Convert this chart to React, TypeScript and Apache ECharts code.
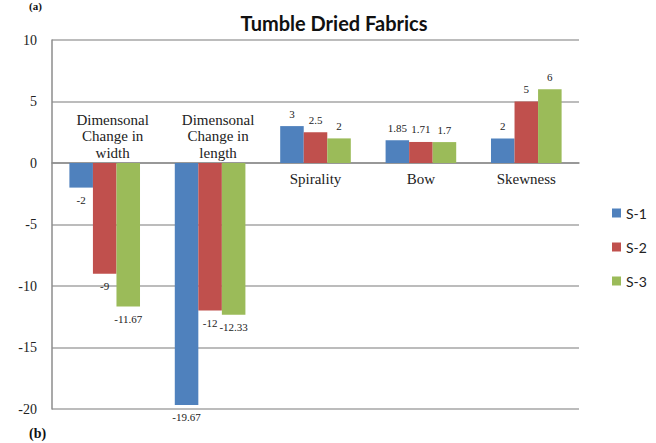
import React, { useEffect, useRef } from "react";
import * as echarts from "echarts";

const categories = [
  "Dimensonal\nChange in\nwidth",
  "Dimensonal\nChange in\nlength",
  "Spirality",
  "Bow",
  "Skewness",
];
const seriesNames = ["S-1", "S-2", "S-3"];
const s1 = [-2, -19.67, 3, 1.85, 2];
const s2 = [-9, -12, 2.5, 1.71, 5];
const s3 = [-11.67, -12.33, 2, 1.7, 6];
const colors = ["#4F81BD", "#C0504D", "#9BBB59"];
const yTicks = { min: -20, max: 10, interval: 5 };

const serif = "'Liberation Serif', 'DejaVu Serif', serif";

export default function App() {
  const ref = useRef<HTMLDivElement>(null);
  useEffect(() => {
    if (!ref.current) return;
    const chart = echarts.init(ref.current, null, { renderer: "svg" });
    const all = [s1, s2, s3];
    const barSeries = all.map((vals, k) => ({
      name: seriesNames[k],
      type: "bar",
      barGap: "0%",
      barCategoryGap: "33%",
      itemStyle: { color: colors[k] },
      data: vals.map((v) => ({
        value: v,
        label: { position: v < 0 ? "bottom" : "top" },
      })),
      label: {
        show: true,
        distance: 7,
        fontFamily: serif,
        fontSize: 11,
        color: "#222",
      },
    }));
    const option: any = {
      animation: false,
      backgroundColor: "#fff",
      title: {
        text: "Tumble Dried Fabrics",
        left: 329,
        top: 8,
        textAlign: "center",
        textStyle: {
          fontFamily: "Lato",
          fontWeight: "bold",
          fontSize: 20,
          color: "#111",
        },
      },
      legend: {
        data: seriesNames,
        orient: "vertical",
        left: 607,
        top: 201,
        itemWidth: 9,
        itemHeight: 9,
        itemGap: 20,
        icon: "rect",
        textStyle: { fontFamily: "Lato", fontSize: 14, color: "#222" },
      },
      grid: { left: 52, right: 77, top: 40, bottom: 34 },
      xAxis: {
        type: "category",
        data: categories,
        axisLine: { show: true, onZero: true, lineStyle: { color: "#8c8c8c", width: 1.5 } },
        axisTick: { show: false },
        axisLabel: { show: false },
      },
      yAxis: {
        type: "value",
        min: yTicks.min,
        max: yTicks.max,
        interval: yTicks.interval,
        axisLine: { show: true, lineStyle: { color: "#8c8c8c", width: 1.5 } },
        axisTick: { show: false },
        splitLine: { show: true, lineStyle: { color: "#a6a6a6", width: 1.5 } },
        axisLabel: {
          margin: 15,
          fontFamily: serif,
          fontSize: 14,
          color: "#222",
        },
      },
      series: [
        ...barSeries,
        {
          type: "custom",
          name: "cats",
          silent: true,
          clip: false,
          data: categories.map((_, i) => [i, 0]),
          renderItem: (params: any, api: any) => {
            const i = api.value(0);
            const p = api.coord([i, 0]);
            const neg = Math.min(s1[i], s2[i], s3[i]) < 0;
            return {
              type: "text",
              x: p[0] + (neg ? 8 : 0),
              y: neg ? p[1] - 2 : p[1] + 8,
              style: {
                text: categories[i],
                align: "center",
                verticalAlign: neg ? "bottom" : "top",
                textAlign: "center",
                textVerticalAlign: neg ? "bottom" : "top",
                font: `15px ${serif}`,
                lineHeight: 16.5,
                fill: "#222",
              },
            };
          },
        },
      ],
      graphic: [
        {
          type: "text",
          left: 29,
          top: 0,
          style: { text: "(a)", font: `bold 11px ${serif}`, fill: "#111" },
        },
        {
          type: "text",
          left: 29,
          top: 426,
          style: { text: "(b)", font: `bold 14px ${serif}`, fill: "#111" },
        },
      ],
    };
    chart.setOption(option);
    return () => chart.dispose();
  }, []);
  return <div ref={ref} style={{ width: 656, height: 443, position: "absolute", left: 0, top: 0 }} />;
}
